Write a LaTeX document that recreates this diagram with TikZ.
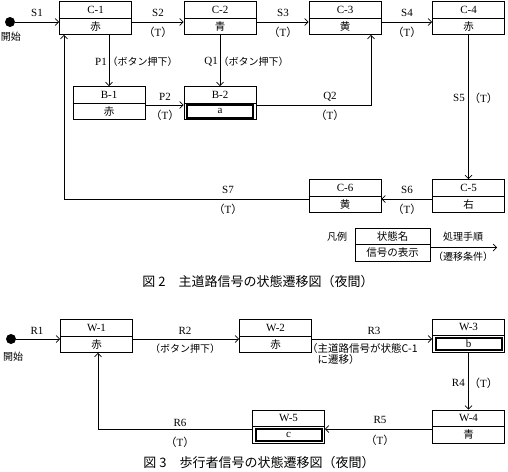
\documentclass[tikz,border=0pt]{standalone}
\usepackage{fontspec}
\setmainfont{Liberation Serif}
\newfontfamily\jp{Noto Sans CJK JP}
\usetikzlibrary{arrows.meta,calc}
\newcommand\TT{{\jp（}T{\jp）}}
\tikzset{
 stbox/.style={draw, line width=0.7pt, minimum width=72pt, minimum height=33pt, inner sep=0},
 ttl/.style={font=\fontsize{11}{12}\selectfont, inner sep=0},
 dsp/.style={font=\fontsize{10.5}{12}\selectfont\jp, inner sep=0},
 inbox/.style={draw, line width=2pt, minimum width=66pt, minimum height=12.5pt, inner sep=0, font=\fontsize{11}{12}\selectfont},
 arr/.style={line width=0.7pt, -{Straight Barb[length=3.5pt,width=7pt]}},
 ln/.style={line width=0.7pt},
 lab/.style={font=\fontsize{11}{12}\selectfont, inner sep=0},
 jlab/.style={font=\fontsize{10}{12}\selectfont\jp, inner sep=0},
 figcap/.style={font=\fontsize{13}{15}\selectfont\jp, inner sep=0},
 startdot/.style={circle, fill, inner sep=0, minimum size=10pt},
}
\newcommand\mkstate[5]{%
 \node[stbox] (#1) at (#2,#3) {};
 \draw[ln] (#1.west) -- (#1.east);
 \node[ttl] (#1t) at ($(#1.north)!0.5!(#1.center)$) {#4};
 \node[dsp] (#1d) at ($(#1.south)!0.5!(#1.center)$) {#5};
}
\newcommand\mkstateb[5]{%
 \node[stbox] (#1) at (#2,#3) {};
 \draw[ln] (#1.west) -- (#1.east);
 \node[ttl] (#1t) at ($(#1.north)!0.5!(#1.center)$) {#4};
 \node[inbox] (#1d) at ($(#1.south)!0.5!(#1.center)$) {#5};
}
\begin{document}
\begin{tikzpicture}[x=1pt,y=-1pt]
\useasboundingbox (0,0) rectangle (508,471);
% ---------- Figure 2 ----------
\mkstate{c1}{95.5}{18}{C-1}{赤}
\mkstate{c2}{220}{18}{C-2}{青}
\mkstate{c3}{345}{18}{C-3}{黄}
\mkstate{c4}{468.5}{18}{C-4}{赤}
\mkstate{b1}{109}{103}{B-1}{赤}
\mkstateb{b2}{220}{103}{B-2}{a}
\mkstate{c5}{468.5}{196}{C-5}{右}
\mkstate{c6}{345}{196}{C-6}{黄}
\node[startdot] (s0) at (10,22) {};
\node[jlab] (s0l) at (11,37) {開始};
% connectors
\draw[arr] (s0) -- (s0 -| c1.west);
\node[lab] (s1l) at (37,13) {S1};
\draw[arr] ($(c1.east)+(0,4)$) -- ($(c2.west)+(0,4)$);
\node[lab] (s2l) at (158,13) {S2};
\node[lab] (s2t) at (158,32) {\TT};
\draw[arr] ($(c2.east)+(0,4)$) -- ($(c3.west)+(0,4)$);
\node[lab] (s3l) at (283,13) {S3};
\node[lab] (s3t) at (283,32) {\TT};
\draw[arr] ($(c3.east)+(0,4)$) -- ($(c4.west)+(0,4)$);
\node[lab] (s4l) at (407,13) {S4};
\node[lab] (s4t) at (407,32) {\TT};
\draw[arr] (c1.south -| b1.north) -- (b1.north);
\node[lab, anchor=east] (p1l) at (107,62) {P1};
\node[jlab, anchor=west] (p1t) at (107.5,62) {（ボタン押下）};
\draw[arr] (c2.south) -- (b2.north);
\node[lab, anchor=east] (q1l) at (218,62) {Q1};
\node[jlab, anchor=west] (q1t) at (218.5,62) {（ボタン押下）};
\draw[arr] ($(b1.east)+(0,2)$) -- ($(b2.west)+(0,2)$);
\node[lab] (p2l) at (165,97) {P2};
\node[lab] (p2t) at (165,115) {\TT};
\draw[arr] ($(b2.east)+(0,2)$) -| ($(c3.south)+(26,0)$);
\node[lab] (q2l) at (330,97) {Q2};
\node[lab] (q2t) at (330,115) {\TT};
\draw[arr] (c4.south) -- (c5.north);
\node[lab, anchor=east] (s5l) at (465,98) {S5};
\node[lab, anchor=west] (s5t) at (469,98) {\TT};
\draw[arr] ($(c5.west)+(0,3)$) -- ($(c6.east)+(0,3)$);
\node[lab] (s6l) at (407,190) {S6};
\node[lab] (s6t) at (407,209) {\TT};
\draw[arr] ($(c6.west)+(0,3)$) -| ($(c1.south)+(-31.5,0)$);
\node[lab] (s7l) at (228,190) {S7};
\node[lab] (s7t) at (228,209) {\TT};
% legend
\node[jlab] (lgl) at (337,237) {凡例};
\node[stbox, minimum width=75pt] (lg) at (392.5,244.5) {};
\draw[ln] (lg.west) -- (lg.east);
\node[dsp] (lgt) at ($(lg.north)!0.5!(lg.center)$) {状態名};
\node[dsp] (lgd) at ($(lg.south)!0.5!(lg.center)$) {信号の表示};
\coordinate (lgend) at (497,247.5);
\draw[arr] (lg.east |- lgend) -- (lgend);
\node[jlab] (lga) at (463,237) {処理手順};
\node[jlab] (lgb) at (463,257) {（遷移条件）};
\node[figcap] (cap2) at (258,282) {図 2\quad 主道路信号の状態遷移図（夜間）};
% ---------- Figure 3 ----------
\mkstate{w1}{96.5}{336}{W-1}{赤}
\mkstate{w2}{275.5}{336}{W-2}{赤}
\mkstateb{w3}{468.5}{335.5}{W-3}{b}
\mkstate{w4}{468.5}{426.5}{W-4}{青}
\mkstateb{w5}{288.5}{426.5}{W-5}{c}
\node[startdot] (r0) at (11,339) {};
\node[jlab] (r0l) at (13,357) {開始};
\draw[arr] (r0) -- (r0 -| w1.west);
\node[lab] (r1l) at (37,331) {R1};
\draw[arr] ($(w1.east)+(0,3)$) -- ($(w2.west)+(0,3)$);
\node[lab] (r2l) at (185,331) {R2};
\node[jlab] (r2t) at (185,349) {（ボタン押下）};
\draw[arr] ($(w2.east)+(0,3)$) -- ($(w3.west)+(0,3.5)$);
\node[lab] (r3l) at (374,331) {R3};
\node[jlab, anchor=north west, align=left, font=\fontsize{10.5}{11}\selectfont\jp] (r3t) at (307,343) {（主道路信号が状態C-1\\　に遷移）};
\draw[arr] (w3.south) -- (w4.north);
\node[lab, anchor=east] (r4l) at (465,383) {R4};
\node[lab, anchor=west] (r4t) at (469,383) {\TT};
\draw[arr] ($(w4.west)+(0,2.5)$) -- ($(w5.east)+(0,2.5)$);
\node[lab] (r5l) at (380,420) {R5};
\node[lab] (r5t) at (380,440) {\TT};
\draw[arr] ($(w5.west)+(0,2.5)$) -| ($(w1.south)+(1.5,0)$);
\node[lab] (r6l) at (180,423) {R6};
\node[lab] (r6t) at (180,442) {\TT};
\node[figcap] (cap3) at (259,463) {図 3\quad 歩行者信号の状態遷移図（夜間）};
\end{tikzpicture}
\end{document}
